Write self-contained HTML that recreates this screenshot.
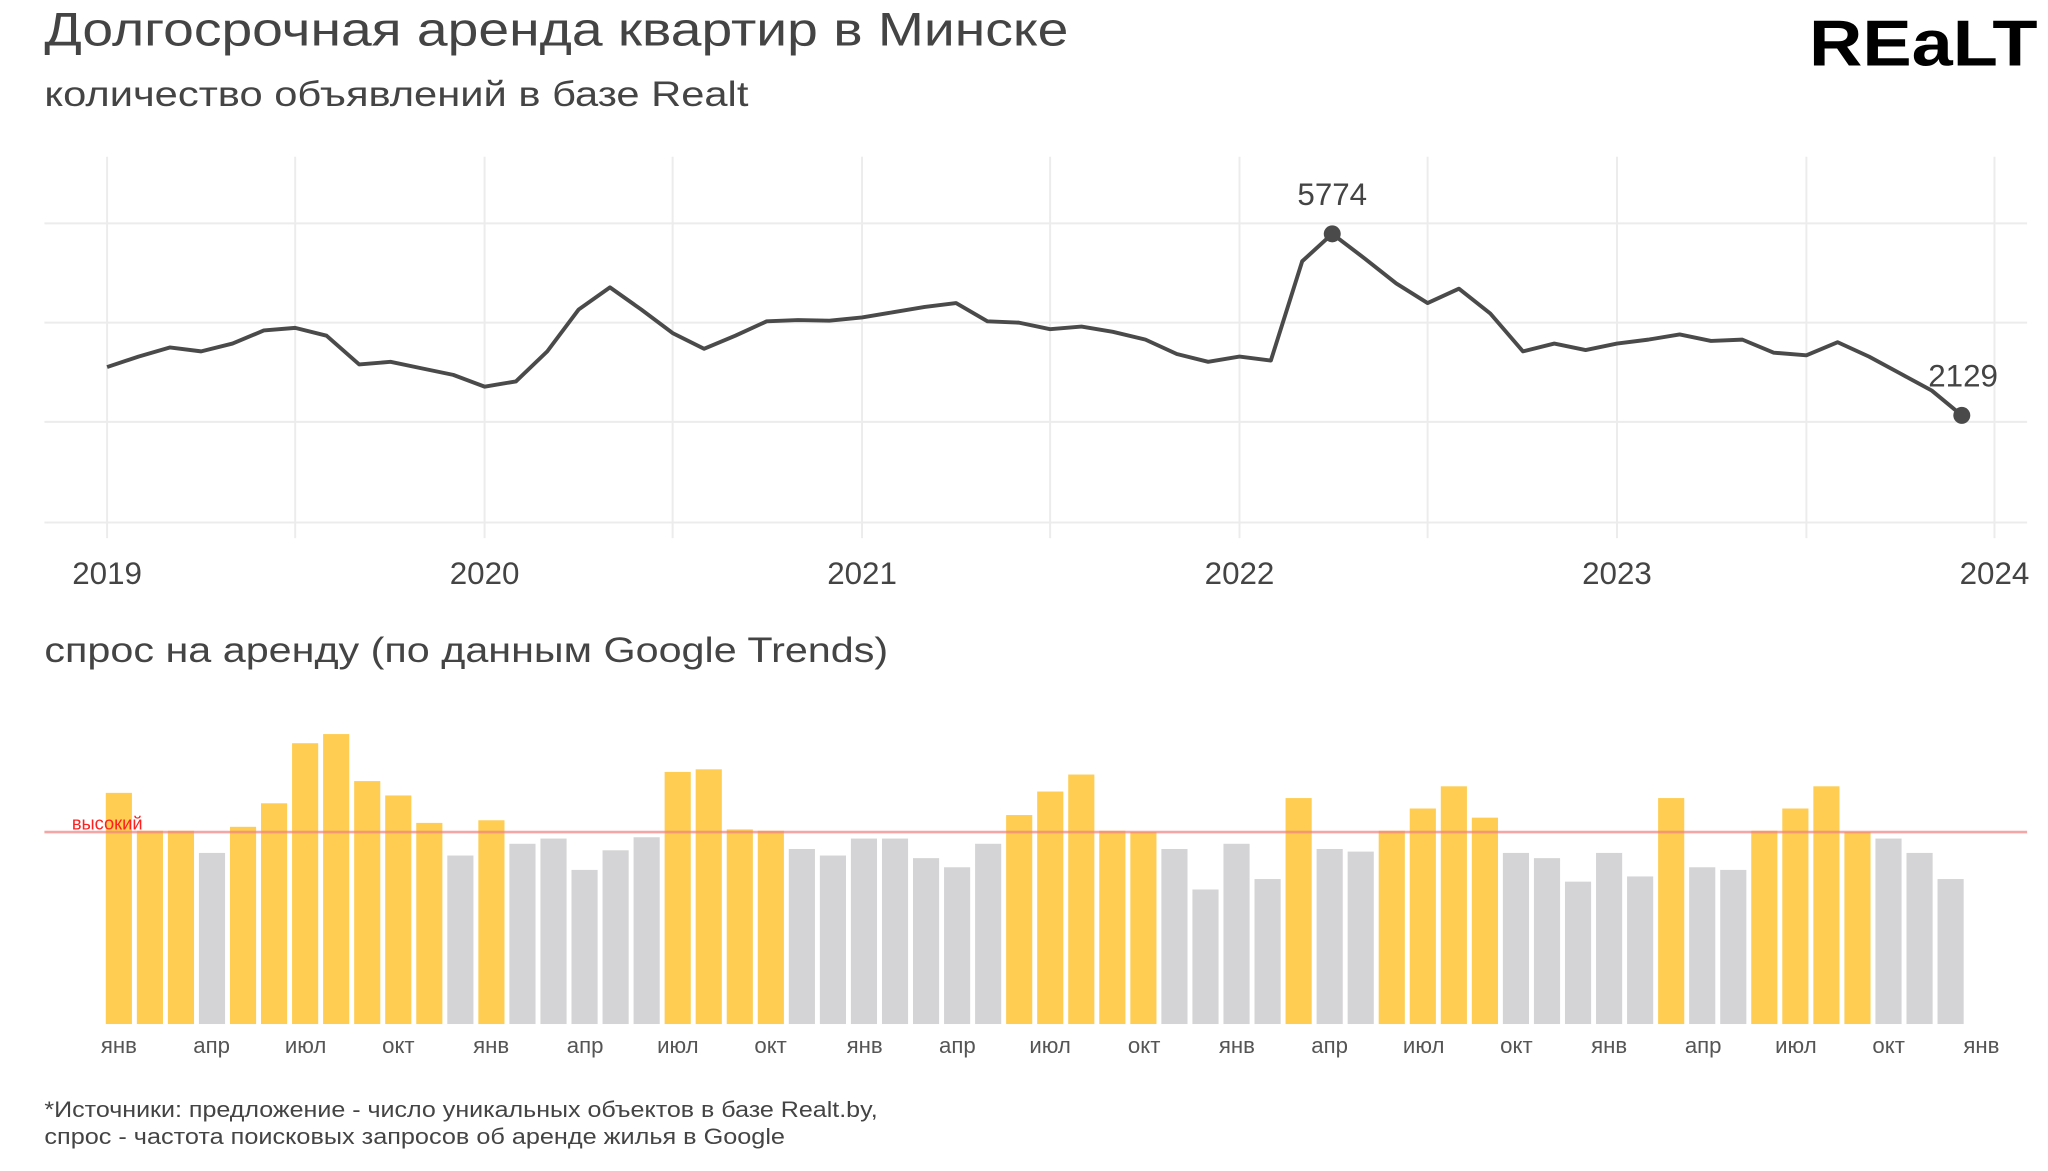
<!DOCTYPE html>
<html><head><meta charset="utf-8"><style>
html,body{margin:0;padding:0;background:#fff;}
svg{display:block;}
text{font-family:"Liberation Sans","DejaVu Sans",sans-serif;}
</style></head><body>
<svg width="2048" height="1171" viewBox="0 0 1568 896.5" xmlns="http://www.w3.org/2000/svg">
<rect width="1568" height="896.5" fill="#fff"/>
<text x="34" y="35" font-size="36" fill="#444" textLength="784" lengthAdjust="spacingAndGlyphs">Долгосрочная аренда квартир в Минске</text>
<text x="34" y="81" font-size="27" fill="#444" textLength="539" lengthAdjust="spacingAndGlyphs">количество объявлений в базе Realt</text>
<text x="1385" y="50" font-size="50" font-weight="bold" fill="#000" textLength="175" lengthAdjust="spacingAndGlyphs">REaLT</text>
<g stroke="#ececec" stroke-width="1.5">
<line x1="34" x2="1552" y1="171" y2="171"/><line x1="34" x2="1552" y1="247" y2="247"/>
<line x1="34" x2="1552" y1="323" y2="323"/><line x1="34" x2="1552" y1="400" y2="400"/>
<line x1="82" x2="82" y1="120" y2="412"/><line x1="226" x2="226" y1="120" y2="412"/>
<line x1="371" x2="371" y1="120" y2="412"/><line x1="515" x2="515" y1="120" y2="412"/>
<line x1="660" x2="660" y1="120" y2="412"/><line x1="804" x2="804" y1="120" y2="412"/>
<line x1="949" x2="949" y1="120" y2="412"/><line x1="1093" x2="1093" y1="120" y2="412"/>
<line x1="1238" x2="1238" y1="120" y2="412"/><line x1="1383" x2="1383" y1="120" y2="412"/>
<line x1="1527" x2="1527" y1="120" y2="412"/>
</g>
<g font-size="24" fill="#444" text-anchor="middle">
<text x="82" y="447">2019</text><text x="371" y="447">2020</text><text x="660" y="447">2021</text>
<text x="949" y="447">2022</text><text x="1238" y="447">2023</text><text x="1527" y="447">2024</text>
<text x="1020" y="157">5774</text><text x="1503" y="296">2129</text>
</g>
<polyline fill="none" stroke="#4a4a4a" stroke-width="3" stroke-linejoin="round" points="
82,281 106,273 130,266 154,269 178,263 202,253 226,251 250,257 275,279 299,277 323,282 347,287
371,296 395,292 419,269 443,237 467,220 491,237 515,255 539,267 563,257 587,246 611,245 635,245.5
660,243 684,239 708,235 732,232 756,246 780,247 804,252 828,250 852,254 877,260 901,271 925,277
949,273 973,276 997,200 1020,179 1045,198 1069,217 1093,232 1117,221 1141,240 1166,269 1190,263 1214,268
1238,263 1262,260 1286,256 1310,261 1334,260 1358,270 1383,272 1407,262 1431,273 1455,286 1479,299 1502,318"/>
<circle cx="1020" cy="179" r="6.5" fill="#4a4a4a"/>
<circle cx="1502" cy="318" r="6.5" fill="#4a4a4a"/>
<text x="34" y="507" font-size="27" fill="#444" textLength="646" lengthAdjust="spacingAndGlyphs">спрос на аренду (по данным Google Trends)</text>
<g fill="#fecd52">
<rect x="81" y="607" width="20" height="177"/>
<rect x="104.77" y="636" width="20" height="148"/>
<rect x="128.54" y="636" width="20" height="148"/>
<rect x="176.08" y="633" width="20" height="151"/>
<rect x="199.85" y="615" width="20" height="169"/>
<rect x="223.62" y="569" width="20" height="215"/>
<rect x="247.39" y="562" width="20" height="222"/>
<rect x="271.16" y="598" width="20" height="186"/>
<rect x="294.93" y="609" width="20" height="175"/>
<rect x="318.7" y="630" width="20" height="154"/>
<rect x="366.24" y="628" width="20" height="156"/>
<rect x="508.86" y="591" width="20" height="193"/>
<rect x="532.63" y="589" width="20" height="195"/>
<rect x="556.4" y="635" width="20" height="149"/>
<rect x="580.17" y="636" width="20" height="148"/>
<rect x="770.33" y="624" width="20" height="160"/>
<rect x="794.1" y="606" width="20" height="178"/>
<rect x="817.87" y="593" width="20" height="191"/>
<rect x="841.64" y="636" width="20" height="148"/>
<rect x="865.41" y="637" width="20" height="147"/>
<rect x="984.26" y="611" width="20" height="173"/>
<rect x="1055.57" y="636" width="20" height="148"/>
<rect x="1079.34" y="619" width="20" height="165"/>
<rect x="1103.11" y="602" width="20" height="182"/>
<rect x="1126.88" y="626" width="20" height="158"/>
<rect x="1269.5" y="611" width="20" height="173"/>
<rect x="1340.81" y="636" width="20" height="148"/>
<rect x="1364.58" y="619" width="20" height="165"/>
<rect x="1388.35" y="602" width="20" height="182"/>
<rect x="1412.12" y="637" width="20" height="147"/>
</g>
<g fill="#d4d3d5">
<rect x="152.31" y="653" width="20" height="131"/>
<rect x="342.47" y="655" width="20" height="129"/>
<rect x="390.01" y="646" width="20" height="138"/>
<rect x="413.78" y="642" width="20" height="142"/>
<rect x="437.55" y="666" width="20" height="118"/>
<rect x="461.32" y="651" width="20" height="133"/>
<rect x="485.09" y="641" width="20" height="143"/>
<rect x="603.94" y="650" width="20" height="134"/>
<rect x="627.71" y="655" width="20" height="129"/>
<rect x="651.48" y="642" width="20" height="142"/>
<rect x="675.25" y="642" width="20" height="142"/>
<rect x="699.02" y="657" width="20" height="127"/>
<rect x="722.79" y="664" width="20" height="120"/>
<rect x="746.56" y="646" width="20" height="138"/>
<rect x="889.18" y="650" width="20" height="134"/>
<rect x="912.95" y="681" width="20" height="103"/>
<rect x="936.72" y="646" width="20" height="138"/>
<rect x="960.49" y="673" width="20" height="111"/>
<rect x="1008.03" y="650" width="20" height="134"/>
<rect x="1031.8" y="652" width="20" height="132"/>
<rect x="1150.65" y="653" width="20" height="131"/>
<rect x="1174.42" y="657" width="20" height="127"/>
<rect x="1198.19" y="675" width="20" height="109"/>
<rect x="1221.96" y="653" width="20" height="131"/>
<rect x="1245.73" y="671" width="20" height="113"/>
<rect x="1293.27" y="664" width="20" height="120"/>
<rect x="1317.04" y="666" width="20" height="118"/>
<rect x="1435.89" y="642" width="20" height="142"/>
<rect x="1459.66" y="653" width="20" height="131"/>
<rect x="1483.43" y="673" width="20" height="111"/>
</g>
<line x1="34" x2="1552" y1="637" y2="637" stroke="#f08080" stroke-opacity="0.7" stroke-width="2"/>
<text x="55" y="635" font-size="14" fill="#ff2020">высокий</text>
<g font-size="17" fill="#555" text-anchor="middle">
<text x="91" y="806">янв</text><text x="162" y="806">апр</text><text x="234" y="806">июл</text><text x="305" y="806">окт</text>
<text x="376" y="806">янв</text><text x="448" y="806">апр</text><text x="519" y="806">июл</text><text x="590" y="806">окт</text>
<text x="662" y="806">янв</text><text x="733" y="806">апр</text><text x="804" y="806">июл</text><text x="876" y="806">окт</text>
<text x="947" y="806">янв</text><text x="1018" y="806">апр</text><text x="1090" y="806">июл</text><text x="1161" y="806">окт</text>
<text x="1232" y="806">янв</text><text x="1304" y="806">апр</text><text x="1375" y="806">июл</text><text x="1446" y="806">окт</text>
<text x="1517" y="806">янв</text>
</g>
<text x="34" y="855" font-size="17" fill="#444" textLength="638" lengthAdjust="spacingAndGlyphs">*Источники: предложение - число уникальных объектов в базе Realt.by,</text>
<text x="34" y="876" font-size="17" fill="#444" textLength="567" lengthAdjust="spacingAndGlyphs">спрос - частота поисковых запросов об аренде жилья в Google</text>
</svg>
</body></html>
